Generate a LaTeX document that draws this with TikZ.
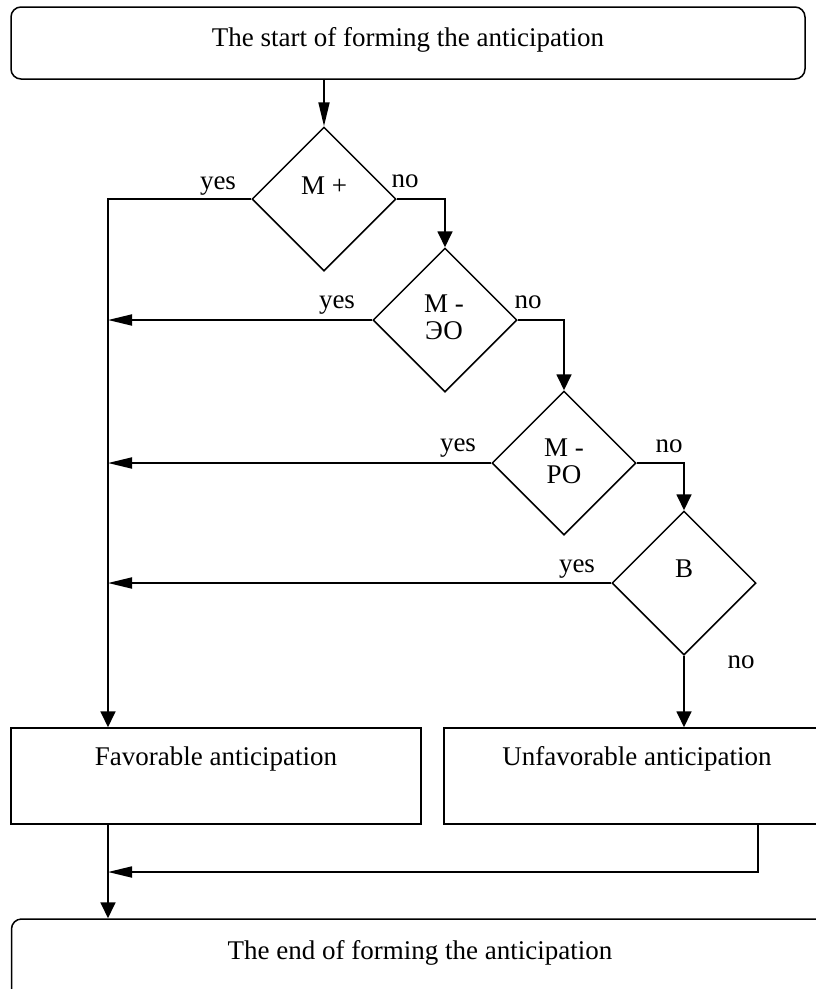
\documentclass[tikz,border=0pt]{standalone}
\usepackage{fontspec}
\setmainfont{Liberation Serif}
\usetikzlibrary{shapes.geometric,arrows.meta,calc}
\begin{document}
\begin{tikzpicture}[x=1pt,y=-1pt,
  every node/.style={font=\fontsize{27}{31}\selectfont},
  box/.style={draw,line width=1.5pt,inner sep=0pt,anchor=center},
  rbox/.style={box,rounded corners=10pt},
  dia/.style={draw,diamond,line width=1.5pt,inner sep=0pt,minimum width=144pt,minimum height=144pt,aspect=1},
  lbl/.style={inner sep=0pt,text height=18pt,text depth=0pt},
  conn/.style={line width=1.8pt},
  arr/.style={conn,-{Triangle[length=16pt,width=15pt]}},
  arrlong/.style={conn,-{Triangle[length=24pt,width=11pt]}}]
\useasboundingbox (0,0) rectangle (816,989);
\clip (0,0) rectangle (816,989);
% boxes
\node[rbox,minimum width=794pt,minimum height=72pt,text height=39pt,text depth=33pt] (start) at (408,43) {The start of forming the anticipation};
\node[dia] (d1) at (324,199) {};
\node[dia] (d2) at (445,320) {};
\node[dia] (d3) at (564,463) {};
\node[dia] (d4) at (684,583) {};
\node[box,minimum width=410pt,minimum height=96pt,text height=37pt,text depth=59pt] (fav) at (216,776) {Favorable anticipation};
\node[box,minimum width=386pt,minimum height=96pt,text height=37pt,text depth=59pt] (unfav) at (637,776) {Unfavorable anticipation};
\node[rbox,minimum width=817pt,minimum height=80pt,text height=40pt,text depth=40pt] (finish) at (420,959) {The end of forming the anticipation};
% diamond texts
\node[lbl] (t1) at (324,185) {M +};
\node[lbl] (t2a) at (444,303) {M -};
\node[lbl] (t2b) at (444,330) {ЭО};
\node[lbl] (t3a) at (564,447) {M -};
\node[lbl] (t3b) at (564,474) {PO};
\node[lbl] (t4) at (684,568) {B};
% yes / no labels
\node[lbl] (y1) at (218,180) {yes};
\node[lbl] (n1) at (405,178) {no};
\node[lbl] (y2) at (337,299) {yes};
\node[lbl] (n2) at (528,299) {no};
\node[lbl] (y3) at (458,442) {yes};
\node[lbl] (n3) at (669,443) {no};
\node[lbl] (y4) at (577,563) {yes};
\node[lbl] (n4) at (741,659) {no};
% helper coordinates
\coordinate (lx) at (108,0);
\coordinate (rx) at (758,0);
\coordinate (jy) at (0,872);
% connectors
\draw[arrlong] (start.south -| d1.north) -- (d1.north);
\draw[arr] (d1.west) -| (lx |- fav.north);
\draw[arr] (d1.east) -| (d2.north);
\draw[arrlong] (d2.west) -- (lx |- d2.west);
\draw[arr] (d2.east) -| (d3.north);
\draw[arrlong] (d3.west) -- (lx |- d3.west);
\draw[arr] (d3.east) -| (d4.north);
\draw[arrlong] (d4.west) -- (lx |- d4.west);
\draw[arr] (d4.south) -- (d4.south |- unfav.north);
\draw[arrlong] (rx |- unfav.south) -- (rx |- jy) -- (lx |- jy);
\draw[arr] (lx |- fav.south) -- (lx |- finish.north);
\end{tikzpicture}
\end{document}
